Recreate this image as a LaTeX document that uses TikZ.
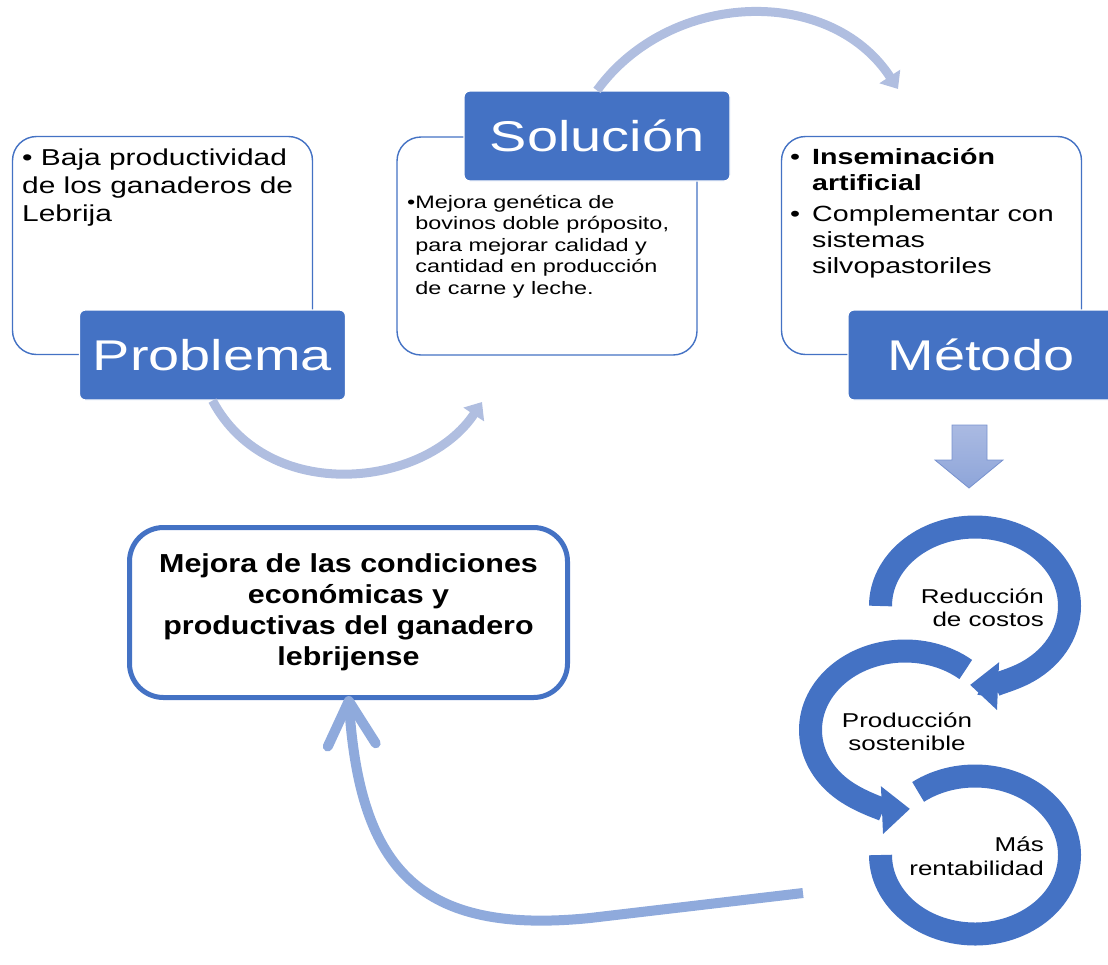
\documentclass[tikz,border=0pt]{standalone}
\usepackage{fontspec}
\setmainfont[FakeStretch=1.3]{Liberation Sans}
\newfontfamily\goalfont[FakeStretch=1.17]{Liberation Sans}
\usetikzlibrary{arrows.meta}
\definecolor{ringblue}{HTML}{4472C4}
\definecolor{arcblue}{HTML}{B0BEE0}
\definecolor{backblue}{HTML}{8FAADC}
\definecolor{downtop}{HTML}{AABAE2}
\definecolor{downbot}{HTML}{8EA5D9}
\definecolor{downedge}{HTML}{7892CF}
\begin{document}
\begin{tikzpicture}[x=1pt, y=-1pt,
	infobox/.style={draw=ringblue, line width=1.4pt, rounded corners=24pt, fill=white, minimum width=300pt, minimum height=218pt, inner sep=0pt},
	tagbox/.style={fill=ringblue, draw=white, line width=1.2pt, rounded corners=6pt, minimum width=266pt, minimum height=90pt, inner sep=0pt, text=white, font=\fontsize{43}{48}\selectfont},
	bodytext/.style={anchor=north west, inner sep=0pt, align=left},
	goalbox/.style={draw=ringblue, line width=5pt, rounded corners=34pt, minimum width=438pt, minimum height=170pt, align=center, font=\goalfont\bfseries\fontsize{26}{31}\selectfont},
	ringtext/.style={inner sep=0pt, font=\fontsize{20}{23.5}\selectfont},
	ring/.style={draw=ringblue, line width=23pt},
	arcarrow/.style={draw=arcblue, line width=9pt, -{Triangle[width=24pt, length=15pt]}},
	backarrow/.style={draw=backblue, line width=10pt, -{Straight Barb[length=44pt, width=48pt, round]}}]
\useasboundingbox (0,0) rectangle (1108,964);
	% boxes and their tags
	\node[infobox] (probbox) at (162.5,245.5) {};
	\node[infobox] (solbox) at (547,246) {};
	\node[infobox] (metbox) at (931.5,245.5) {};
	\node[tagbox] (probtag) at (212.5,355) {Problema};
	\node[tagbox] (soltag) at (597,136) {Solución};
	\node[tagbox] (mettag) at (981,355) {Método};
	% box texts
	\node[bodytext, font=\fontsize{23}{28}\selectfont] (probtxt) at (22,149) {\textbullet{} Baja productividad\\de los ganaderos de\\Lebrija};
	\node[bodytext, font=\fontsize{18}{21.5}\selectfont] (soltxt) at (407,195) {\textbullet Mejora genética de\\\phantom{\textbullet}bovinos doble próposito,\\\phantom{\textbullet}para mejorar calidad y\\\phantom{\textbullet}cantidad en producción\\\phantom{\textbullet}de carne y leche.};
	\node[bodytext, font=\fontsize{22}{26}\selectfont] (mettxt) at (790,148) {\makebox[22pt][l]{\textbullet}\textbf{Inseminación}\\\hspace*{22pt}\textbf{artificial}\\[5pt]\makebox[22pt][l]{\textbullet}Complementar con\\\hspace*{22pt}sistemas\\\hspace*{22pt}silvopastoriles};
	% arcs between the steps
	\coordinate (toptip) at (898,89);
	\coordinate (bottip) at (482,402);
	\draw[arcarrow] (soltag.north) .. controls (670,-10) and (830,-15) .. (toptip);
	\draw[arcarrow] (probtag.south) .. controls (268,505) and (425,488) .. (bottip);
	% down arrow
	\shade[top color=downtop, bottom color=downbot, draw=downedge, line width=0.8pt] (952,425) -- (987,425) -- (987,460) -- (1003,460) -- (969,488) -- (935,460) -- (952,460) -- cycle;
	% rings
	\draw[ring] (975,855) ++(-127:94.5 and 79) arc[start angle=-127, end angle=180, x radius=94.5, y radius=79];
	\draw[ring, -{Triangle[width=46pt, length=28pt]}] (905,730) ++(-50:94.5 and 79) arc[start angle=-50, end angle=-273, x radius=94.5, y radius=79];
	\draw[ring, -{Triangle[width=46pt, length=28pt]}] (975,606) ++(-180:94.5 and 79) arc[start angle=-180, end angle=93, x radius=94.5, y radius=79];
	\node[ringtext, anchor=east, align=right] (redtxt) at (1044,607.5) {Reducción\\de costos};
	\node[ringtext, align=center] (prodtxt) at (907,731.5) {Producción\\sostenible};
	\node[ringtext, anchor=east, align=right] (rentxt) at (1044,856) {Más\\rentabilidad};
	% goal
	\node[goalbox] (goal) at (348.5,612.5) {Mejora de las condiciones\\económicas y\\productivas del ganadero\\lebrijense};
	\coordinate (backstart) at (803,893);
	\draw[backarrow] (backstart) -- (590,918) .. controls (420,935) and (360,870) .. ([yshift=4pt]goal.south);
\end{tikzpicture}
\end{document}
